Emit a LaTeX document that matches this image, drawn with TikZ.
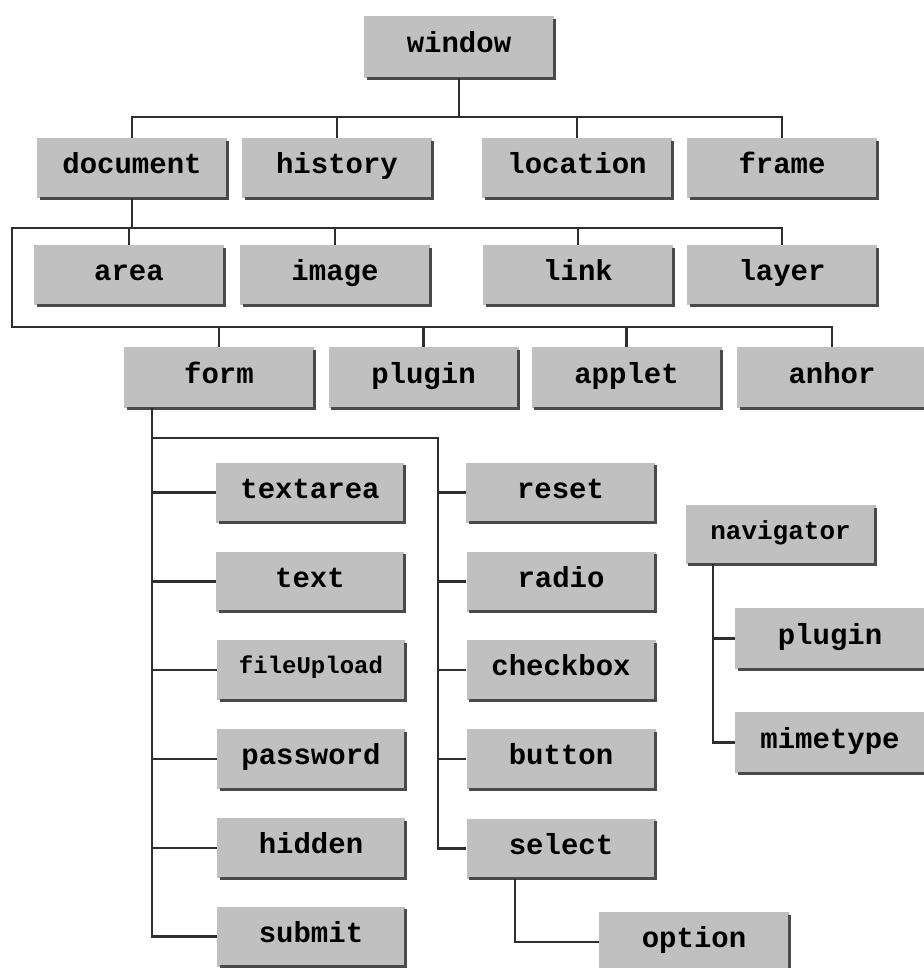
\documentclass[tikz,border=0pt]{standalone}
\usepackage{fontspec}
\newfontfamily\boxfont{Liberation Mono}
\definecolor{boxgray}{HTML}{C0C0C0}
\definecolor{edgegray}{HTML}{4A4A4A}
\definecolor{linegray}{HTML}{2E2E2E}
\tikzset{
  box/.style={fill=boxgray, draw=none, minimum width=190pt, minimum height=60pt,
    inner sep=0pt, text height=17pt, text depth=6pt,
    font=\boxfont\bfseries\fontsize{29}{29}\selectfont, text=black},
  smallbox/.style={box, text height=14pt, text depth=8pt,
    font=\boxfont\bfseries\fontsize{24}{24}\selectfont},
  midbox/.style={box, text height=15pt, text depth=6pt,
    font=\boxfont\bfseries\fontsize{26}{26}\selectfont},
  conn/.style={draw=linegray, line width=2.2pt, line join=miter},
  shadowln/.style={draw=edgegray, line width=3pt}
}
\begin{document}
\begin{tikzpicture}[x=1pt,y=-1pt]
\useasboundingbox (0,0) rectangle (923,968);
% row 0
\node[box, minimum height=62pt] (window) at (459,47) {window};
% row 1
\node[box] (document) at (132,168) {document};
\node[box] (history) at (337,168) {history};
\node[box] (location) at (577,168) {location};
\node[box] (frame) at (782,168) {frame};
% row 2
\node[box] (area) at (129,275) {area};
\node[box] (image) at (335,275) {image};
\node[box] (link) at (578,275) {link};
\node[box] (layer) at (782,275) {layer};
% row 3
\node[box, minimum height=61pt] (form) at (219,377.5) {form};
\node[box, minimum height=61pt] (plugin) at (423.5,377.5) {plugin};
\node[box, minimum height=61pt] (applet) at (626.5,377.5) {applet};
\node[box, minimum height=61pt] (anhor) at (832,377.5) {anhor};
% form children left
\node[box, minimum width=188pt] (textarea) at (310,492.5) {textarea};
\node[box, minimum width=188pt] (text) at (310,581.5) {text};
\node[smallbox, minimum width=188pt] (fileupload) at (311,670) {fileUpload};
\node[box, minimum width=188pt] (password) at (311,759) {password};
\node[box, minimum width=188pt] (hidden) at (311,848) {hidden};
\node[box, minimum width=188pt] (submit) at (311,936.5) {submit};
% form children right
\node[box, minimum width=189pt] (reset) at (560.5,492.5) {reset};
\node[box, minimum width=189pt] (radio) at (561,581.5) {radio};
\node[box, minimum width=189pt] (checkbox) at (561,670) {checkbox};
\node[box, minimum width=189pt] (button) at (561,759) {button};
\node[box, minimum width=189pt] (select) at (561,848.5) {select};
\node[box] (option) at (694,942) {option};
% navigator
\node[midbox, minimum height=59pt] (navigator) at (780.5,534.5) {navigator};
\node[box, minimum height=61pt] (navplugin) at (830,638.5) {plugin};
\node[box, minimum height=61pt] (mimetype) at (830,742.5) {mimetype};

\foreach \n in {window,document,history,location,frame,area,image,link,layer,
  form,plugin,applet,anhor,textarea,text,fileupload,password,hidden,submit,
  reset,radio,checkbox,button,select,option,navigator,navplugin,mimetype}
  \draw[shadowln] ([yshift=-3pt]\n.north east) -- (\n.south east) -- ([xshift=3pt]\n.south west);

% buses
\coordinate (h1) at (0,117);
\coordinate (c1) at (12,228);
\coordinate (c2) at (12,327);
\coordinate (fx) at (152,0);
\coordinate (fbus) at (438,438);
\coordinate (sx) at (515,0);
\coordinate (nx) at (713,0);

\draw[conn] (window.south) -- (window.south |- h1);
\draw[conn] (document.north) |- (h1 -| frame.north) -- (frame.north);
\draw[conn] (history.north) -- (history.north |- h1);
\draw[conn] (location.north) -- (location.north |- h1);

\draw[conn] (document.south) -- (document.south |- c1);
\draw[conn] (layer.north) |- (c1) -- (c2) -| (anhor.north);
\draw[conn] (area.north) -- (area.north |- c1);
\draw[conn] (image.north) -- (image.north |- c1);
\draw[conn] (link.north) -- (link.north |- c1);
\draw[conn] (form.north) -- (form.north |- c2);
\draw[conn] (plugin.north) -- (plugin.north |- c2);
\draw[conn] (applet.north) -- (applet.north |- c2);

% form subtree
\draw[conn] (form.south -| fx) |- (submit.west);
\draw[conn] (textarea.west) -- (textarea.west -| fx);
\draw[conn] (text.west) -- (text.west -| fx);
\draw[conn] (fileupload.west) -- (fileupload.west -| fx);
\draw[conn] (password.west) -- (password.west -| fx);
\draw[conn] (hidden.west) -- (hidden.west -| fx);
\draw[conn] (fx |- fbus) -- (fbus) |- (select.west);
\draw[conn] (reset.west) -- (reset.west -| fbus);
\draw[conn] (radio.west) -- (radio.west -| fbus);
\draw[conn] (checkbox.west) -- (checkbox.west -| fbus);
\draw[conn] (button.west) -- (button.west -| fbus);
\draw[conn] (select.south -| sx) |- (option.west);

% navigator subtree
\draw[conn] (navigator.south -| nx) |- (mimetype.west);
\draw[conn] (navplugin.west) -- (navplugin.west -| nx);
\end{tikzpicture}
\end{document}
